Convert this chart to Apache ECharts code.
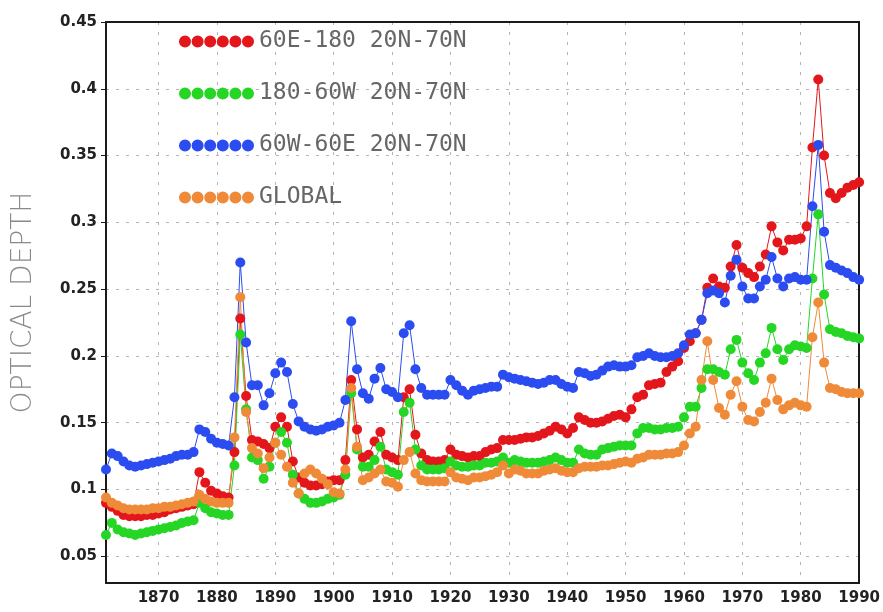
<!DOCTYPE html>
<html>
<head>
<meta charset="utf-8">
<title>Optical depth</title>
<script src="https://cdn.jsdelivr.net/npm/echarts@6/dist/echarts.min.js"></script>
<style>
  html, body { margin: 0; padding: 0; background: #fff; }
  #chart { width: 883px; height: 612px; }
</style>
</head>
<body>
<div id="chart"></div>
<script>
// yearly values 1861 - 1990
var startYear = 1861;
var endYear = 1990;

var east = [ // 60E-180 20N-70N
  0.090, 0.087, 0.084, 0.081, 0.080, 0.080, 0.080, 0.081, 0.081, 0.082,
  0.083, 0.085, 0.086, 0.087, 0.088, 0.089, 0.113, 0.105, 0.099, 0.097,
  0.095, 0.094, 0.128, 0.228, 0.170, 0.137, 0.136, 0.134, 0.131, 0.147,
  0.154, 0.147, 0.121, 0.109, 0.105, 0.103, 0.103, 0.104, 0.106, 0.107,
  0.107, 0.122, 0.182, 0.145, 0.124, 0.126, 0.136, 0.143, 0.126, 0.124,
  0.122, 0.169, 0.175, 0.141, 0.127, 0.122, 0.121, 0.121, 0.122, 0.130,
  0.126, 0.125, 0.124, 0.125, 0.125, 0.128, 0.130, 0.131, 0.137, 0.137,
  0.137, 0.138, 0.139, 0.139, 0.140, 0.142, 0.144, 0.147, 0.145, 0.142,
  0.146, 0.154, 0.152, 0.150, 0.150, 0.151, 0.153, 0.155, 0.156, 0.154,
  0.160, 0.169, 0.171, 0.178, 0.179, 0.180, 0.188, 0.192, 0.196, 0.206,
  0.211, 0.217, 0.227, 0.251, 0.258, 0.252, 0.251, 0.267, 0.283, 0.266,
  0.262, 0.259, 0.267, 0.276, 0.297, 0.285, 0.279, 0.287, 0.287, 0.288,
  0.297, 0.356, 0.407, 0.350, 0.322, 0.318, 0.322, 0.326, 0.328, 0.330
];

var pacific = [ // 180-60W 20N-70N
  0.066, 0.075, 0.070, 0.068, 0.067, 0.066, 0.067, 0.068, 0.069, 0.070,
  0.071, 0.072, 0.073, 0.075, 0.076, 0.077, 0.090, 0.086, 0.083, 0.082,
  0.081, 0.081, 0.118, 0.216, 0.160, 0.124, 0.122, 0.108, 0.117, 0.135,
  0.143, 0.135, 0.111, 0.097, 0.093, 0.090, 0.090, 0.091, 0.093, 0.094,
  0.096, 0.111, 0.172, 0.130, 0.117, 0.117, 0.122, 0.132, 0.115, 0.113,
  0.111, 0.158, 0.165, 0.130, 0.118, 0.115, 0.115, 0.115, 0.116, 0.121,
  0.118, 0.117, 0.117, 0.118, 0.118, 0.120, 0.120, 0.121, 0.124, 0.120,
  0.122, 0.121, 0.120, 0.120, 0.120, 0.121, 0.122, 0.124, 0.122, 0.120,
  0.120, 0.130, 0.127, 0.126, 0.126, 0.130, 0.131, 0.132, 0.133, 0.133,
  0.133, 0.142, 0.146, 0.146, 0.145, 0.145, 0.146, 0.146, 0.147, 0.154,
  0.162, 0.162, 0.176, 0.190, 0.190, 0.188, 0.186, 0.205, 0.212, 0.195,
  0.187, 0.182, 0.195, 0.202, 0.221, 0.205, 0.197, 0.205, 0.208, 0.207,
  0.206, 0.258, 0.306, 0.246, 0.220, 0.218, 0.217, 0.215, 0.214, 0.213
];

var atlantic = [ // 60W-60E 20N-70N
  0.115, 0.127, 0.125, 0.121, 0.118, 0.117, 0.118, 0.119, 0.120, 0.121,
  0.122, 0.123, 0.125, 0.126, 0.126, 0.128, 0.145, 0.143, 0.138, 0.135,
  0.134, 0.133, 0.169, 0.270, 0.210, 0.178, 0.178, 0.163, 0.172, 0.187,
  0.195, 0.188, 0.164, 0.151, 0.147, 0.145, 0.144, 0.145, 0.147, 0.148,
  0.150, 0.167, 0.226, 0.190, 0.172, 0.168, 0.183, 0.191, 0.175, 0.173,
  0.169, 0.217, 0.223, 0.190, 0.176, 0.171, 0.171, 0.171, 0.171, 0.182,
  0.178, 0.174, 0.171, 0.174, 0.175, 0.176, 0.177, 0.177, 0.186, 0.184,
  0.183, 0.182, 0.181, 0.180, 0.179, 0.180, 0.182, 0.182, 0.179, 0.177,
  0.176, 0.188, 0.187, 0.185, 0.186, 0.189, 0.192, 0.193, 0.192, 0.192,
  0.193, 0.199, 0.200, 0.202, 0.200, 0.199, 0.199, 0.200, 0.202, 0.208,
  0.216, 0.217, 0.227, 0.247, 0.249, 0.247, 0.240, 0.260, 0.272, 0.252,
  0.243, 0.243, 0.252, 0.257, 0.274, 0.258, 0.252, 0.258, 0.259, 0.257,
  0.257, 0.312, 0.358, 0.293, 0.268, 0.266, 0.264, 0.262, 0.259, 0.257
];

var globalMean = [ // GLOBAL
  0.094, 0.090, 0.088, 0.086, 0.085, 0.085, 0.085, 0.085, 0.086, 0.086,
  0.087, 0.087, 0.088, 0.089, 0.090, 0.091, 0.096, 0.093, 0.091, 0.090,
  0.090, 0.090, 0.139, 0.244, 0.158, 0.131, 0.127, 0.116, 0.124, 0.135,
  0.126, 0.117, 0.105, 0.097, 0.112, 0.115, 0.112, 0.108, 0.104, 0.098,
  0.097, 0.115, 0.176, 0.132, 0.107, 0.109, 0.112, 0.115, 0.106, 0.105,
  0.102, 0.122, 0.128, 0.112, 0.107, 0.106, 0.106, 0.106, 0.106, 0.113,
  0.109, 0.108, 0.107, 0.109, 0.109, 0.110, 0.111, 0.113, 0.118, 0.112,
  0.115, 0.114, 0.112, 0.112, 0.112, 0.114, 0.115, 0.116, 0.114, 0.113,
  0.113, 0.116, 0.117, 0.117, 0.117, 0.118, 0.118, 0.119, 0.120, 0.121,
  0.120, 0.123, 0.124, 0.126, 0.126, 0.126, 0.127, 0.127, 0.128, 0.133,
  0.142, 0.147, 0.182, 0.211, 0.182, 0.161, 0.156, 0.171, 0.181, 0.162,
  0.152, 0.151, 0.158, 0.165, 0.183, 0.167, 0.160, 0.163, 0.165, 0.163,
  0.162, 0.214, 0.240, 0.195, 0.176, 0.175, 0.173, 0.172, 0.172, 0.172
];

var seriesNames = ["60E-180 20N-70N", "180-60W 20N-70N", "60W-60E 20N-70N", "GLOBAL"];
var seriesColors = ["#e3161c", "#25d625", "#2a4cf0", "#ef8a38"];
var xTicks = [1870, 1880, 1890, 1900, 1910, 1920, 1930, 1940, 1950, 1960, 1970, 1980, 1990];
var yTicks = [0.05, 0.1, 0.15, 0.2, 0.25, 0.3, 0.35, 0.4, 0.45];

function pairs(values) {
  var out = [];
  for (var i = 0; i < values.length; i++) {
    out.push([startYear + i, values[i]]);
  }
  return out;
}

// six dots in a row for the legend
var dots = "";
for (var k = 0; k < 6; k++) {
  var cx = 6 + k * 12.6;
  dots += "M" + (cx - 6) + ",6a6,6 0 1,0 12,0a6,6 0 1,0 -12,0Z";
}

var frameLine = { show: true, lineStyle: { color: "#1a1a1a", width: 2 } };
var gridDots = {
  show: true,
  lineStyle: { color: "#b5b5b5", type: [3, 7], width: 1 }
};
var tickFont = {
  color: "#222",
  fontSize: 15,
  fontWeight: "bold",
  fontFamily: "DejaVu Sans"
};

var chart = echarts.init(document.getElementById("chart"));

var seriesList = [east, pacific, atlantic, globalMean].map(function (vals, i) {
  return {
    name: seriesNames[i],
    type: "line",
    data: pairs(vals),
    symbol: "circle",
    symbolSize: 10,
    showSymbol: true,
    itemStyle: { color: seriesColors[i] },
    lineStyle: { color: seriesColors[i], width: 1 },
    animation: false
  };
});

chart.setOption({
  animation: false,
  grid: {
    left: 106,
    right: 21,
    top: 22,
    bottom: 29
  },
  legend: {
    orient: "vertical",
    left: 174,
    top: 25,
    itemGap: 29,
    itemWidth: 75,
    itemHeight: 12,
    icon: "path://" + dots,
    data: seriesNames,
    textStyle: {
      color: "#666",
      fontSize: 23,
      fontFamily: "DejaVu Sans Mono",
      lineHeight: 21
    }
  },
  xAxis: [
    {
      type: "value",
      min: startYear,
      max: endYear,
      axisLine: frameLine,
      axisTick: { show: false, customValues: xTicks },
      axisLabel: Object.assign({
        customValues: xTicks,
        margin: 8,
        formatter: function (v) { return String(v); }
      }, tickFont),
      splitLine: gridDots
    },
    {
      // top edge of the frame
      type: "value",
      position: "top",
      min: startYear,
      max: endYear,
      axisLine: frameLine,
      axisTick: { show: false },
      axisLabel: { show: false },
      splitLine: { show: false }
    }
  ],
  yAxis: [
    {
      type: "value",
      min: 0.03,
      max: 0.45,
      name: "OPTICAL DEPTH",
      nameLocation: "middle",
      nameGap: 68,
      nameTextStyle: {
        color: "#8a8a8a",
        fontSize: 28,
        fontFamily: "DejaVu Sans",
        fontWeight: 300
      },
      axisLine: frameLine,
      axisTick: {
        show: true,
        inside: false,
        length: 5,
        customValues: yTicks,
        lineStyle: { color: "#1a1a1a", width: 1 }
      },
      axisLabel: Object.assign({
        customValues: yTicks,
        margin: 9,
        formatter: function (v) { return String(+v.toFixed(2)); }
      }, tickFont),
      splitLine: gridDots
    },
    {
      // right edge of the frame
      type: "value",
      position: "right",
      min: 0.03,
      max: 0.45,
      axisLine: frameLine,
      axisTick: { show: false },
      axisLabel: { show: false },
      splitLine: { show: false }
    }
  ],
  series: seriesList
});
</script>
</body>
</html>
